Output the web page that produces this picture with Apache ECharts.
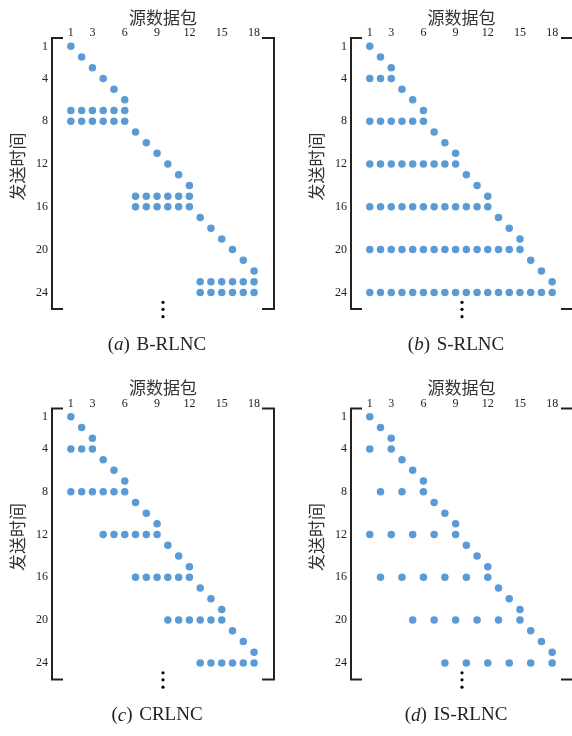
<!DOCTYPE html>
<html>
<head>
<meta charset="utf-8">
<script src="https://cdn.jsdelivr.net/npm/echarts@6/dist/echarts.min.js"></script>
<style>
  html, body { margin: 0; padding: 0; background: #fff; }
  #main { width: 572px; height: 736px; }
</style>
</head>
<body>
<div id="main"></div>
<script>
// 刻度
var colTicks = [1, 3, 6, 9, 12, 15, 18];
var rowTicks = [1, 4, 8, 12, 16, 20, 24];

// 图名
var captionLetters = ['a', 'b', 'c', 'd'];
var captionNames = ['B-RLNC', 'S-RLNC', 'CRLNC', 'IS-RLNC'];

// 每个发送时刻参与编码的源数据包编号（第1行到第24行）
var bRLNC = [
  [1], [2], [3], [4], [5], [6],
  [1, 2, 3, 4, 5, 6], [1, 2, 3, 4, 5, 6],
  [7], [8], [9], [10], [11], [12],
  [7, 8, 9, 10, 11, 12], [7, 8, 9, 10, 11, 12],
  [13], [14], [15], [16], [17], [18],
  [13, 14, 15, 16, 17, 18], [13, 14, 15, 16, 17, 18]
];
var sRLNC = [
  [1], [2], [3], [1, 2, 3],
  [4], [5], [6], [1, 2, 3, 4, 5, 6],
  [7], [8], [9], [1, 2, 3, 4, 5, 6, 7, 8, 9],
  [10], [11], [12], [1, 2, 3, 4, 5, 6, 7, 8, 9, 10, 11, 12],
  [13], [14], [15], [1, 2, 3, 4, 5, 6, 7, 8, 9, 10, 11, 12, 13, 14, 15],
  [16], [17], [18], [1, 2, 3, 4, 5, 6, 7, 8, 9, 10, 11, 12, 13, 14, 15, 16, 17, 18]
];
var cRLNC = [
  [1], [2], [3], [1, 2, 3],
  [4], [5], [6], [1, 2, 3, 4, 5, 6],
  [7], [8], [9], [4, 5, 6, 7, 8, 9],
  [10], [11], [12], [7, 8, 9, 10, 11, 12],
  [13], [14], [15], [10, 11, 12, 13, 14, 15],
  [16], [17], [18], [13, 14, 15, 16, 17, 18]
];
var isRLNC = [
  [1], [2], [3], [1, 3],
  [4], [5], [6], [2, 4, 6],
  [7], [8], [9], [1, 3, 5, 7, 9],
  [10], [11], [12], [2, 4, 6, 8, 10, 12],
  [13], [14], [15], [5, 7, 9, 11, 13, 15],
  [16], [17], [18], [8, 10, 12, 14, 16, 18]
];
var schemeRows = [bRLNC, sRLNC, cRLNC, isRLNC];

var myChart = echarts.init(document.getElementById('main'));

// 四个子图的位置
var panels = [
  { left: 52, top: 38 },
  { left: 351, top: 38 },
  { left: 52, top: 408.5 },
  { left: 351, top: 408.5 }
];
var gw = 222, gh = 271;
var serif = '"Liberation Serif", "DejaVu Serif", serif';
var cjk = '"Noto Sans CJK SC", sans-serif';
var ink = '#222';

var grids = [], xAxes = [], yAxes = [], series = [], graphics = [];

panels.forEach(function (p, i) {
  grids.push({ left: p.left, top: p.top, width: gw, height: gh });

  xAxes.push({
    gridIndex: i,
    type: 'value',
    position: 'top',
    min: -0.75,
    max: 19.85,
    axisLine: { show: false },
    axisTick: { show: false },
    splitLine: { show: false },
    axisLabel: { customValues: colTicks, margin: -1, fontFamily: serif, fontSize: 12, color: ink },
    name: '源数据包',
    nameLocation: 'middle',
    nameGap: 12,
    nameTextStyle: { fontFamily: cjk, fontSize: 17, color: '#333' }
  });

  yAxes.push({
    gridIndex: i,
    type: 'value',
    inverse: true,
    min: 0.22,
    max: 25.55,
    axisLine: { show: false },
    axisTick: { show: false },
    splitLine: { show: false },
    axisLabel: { customValues: rowTicks, margin: 4, fontFamily: serif, fontSize: 12, color: ink },
    name: '发送时间',
    nameLocation: 'middle',
    nameRotate: 90,
    nameGap: 26,
    nameTextStyle: { fontFamily: cjk, fontSize: 17, color: '#333', padding: [0, 0, 0, 14] }
  });

  var pts = [];
  schemeRows[i].forEach(function (cols, r) {
    cols.forEach(function (c) { pts.push([c, r + 1]); });
  });
  series.push({
    type: 'scatter',
    xAxisIndex: i,
    yAxisIndex: i,
    symbolSize: 7.5,
    itemStyle: { color: '#5b9bd5', opacity: 1 },
    data: pts
  });

  // 矩阵括号
  var l = p.left, t = p.top, r = p.left + gw, b = p.top + gh;
  graphics.push({
    type: 'polyline',
    shape: { points: [[l + 11, t], [l, t], [l, b], [l + 11, b]] },
    style: { stroke: ink, lineWidth: 2, fill: null }
  });
  graphics.push({
    type: 'polyline',
    shape: { points: [[r - 12, t], [r, t], [r, b], [r - 12, b]] },
    style: { stroke: ink, lineWidth: 2, fill: null }
  });
  // 省略号
  var cx = l + gw / 2;
  [-6.7, 0.3, 7.7].forEach(function (dy) {
    graphics.push({
      type: 'circle',
      shape: { cx: cx, cy: b + dy, r: 1.6 },
      style: { fill: '#000' }
    });
  });
  // 图名
  graphics.push({
    type: 'text',
    x: cx - 6,
    y: b + 36,
    style: {
      text: '{p|(}{it|' + captionLetters[i] + '}{p|)}  {p|' + captionNames[i] + '}',
      align: 'center',
      verticalAlign: 'middle',
      rich: {
        p: { fontFamily: serif, fontSize: 19, fill: ink },
        it: { fontFamily: serif, fontSize: 19, fontStyle: 'italic', fill: ink }
      }
    }
  });
});

var option = {
  animation: false,
  grid: grids,
  xAxis: xAxes,
  yAxis: yAxes,
  series: series,
  graphic: graphics
};
myChart.setOption(option);
</script>
</body>
</html>
